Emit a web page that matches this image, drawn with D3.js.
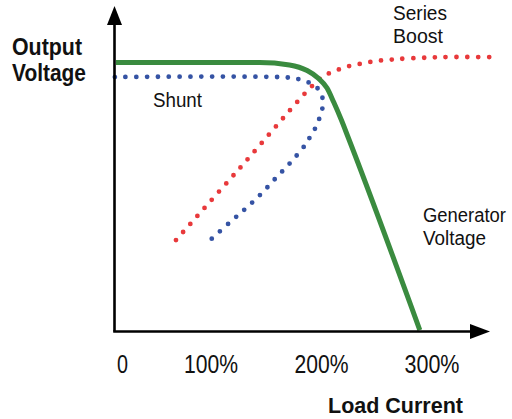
<!DOCTYPE html>
<html><head><meta charset="utf-8">
<script src="https://cdn.jsdelivr.net/npm/d3@7"></script>
<style>body{margin:0;background:#fff}svg{display:block}text{font-family:"Liberation Sans",Arial,sans-serif}</style>
</head><body>
<svg id="c" width="512" height="419"></svg>
<script>
// Data (x = load current %, y = output voltage, relative units)
const generatorVoltage = [[14,100],[144,100],[171,99.1],[187,97],[197,94.2],[205,90.5],[211,85.3],[218,78.6],[224,72.3],[289,0.5]];
const shunt = [[13,94.6],[167,94.5],[177,94],[186.6,92.9],[195,91],[200.2,87.9],[201.1,83.8],[198.6,79.9],[195,76.1],[190.2,72.7],[185.1,69.3],[172.4,63],[158.8,57.1],[145.2,51.1],[130.8,45.5],[116.3,40.3],[98.2,33.6]];
const seriesBoost = [[68.3,34],[126.2,60.8],[190.5,90.9],[195,92.4],[201.4,95],[210.4,96.5],[219.5,98],[229.4,99.1],[239.4,99.8],[249.3,100.6],[259.3,100.9],[269.2,101.3],[289.1,101.7],[309,102],[355.2,102]];
const xTickValues = [0,100,200,300];
const xTickLabels = ["0","100%","200%","300%"];
const xAxisTitle = "Load Current";
const yAxisTitle = ["Output","Voltage"];

const svg = d3.select("#c");
const x = d3.scaleLinear().domain([100,300]).range([211,432]);
const y = d3.scaleLinear().domain([0,100]).range([331.5,62.5]);
const ox = 114.5, oy = 331.5;

const line = d3.line().x(d=>x(d[0])).y(d=>y(d[1]));

// series
svg.append("path").attr("d", line.curve(d3.curveCatmullRom.alpha(0.5))(shunt))
  .attr("fill","none").attr("stroke","#3553a4").attr("stroke-width",4.8)
  .attr("stroke-linecap","round").attr("stroke-dasharray","0 10.8");
svg.append("path").attr("d", line.curve(d3.curveCatmullRom.alpha(0.5))(seriesBoost))
  .attr("fill","none").attr("stroke","#e8393b").attr("stroke-width",4.8)
  .attr("stroke-linecap","round").attr("stroke-dasharray","0 10.8");
svg.append("path").attr("d", line.curve(d3.curveMonotoneX)(generatorVoltage))
  .attr("fill","none").attr("stroke","#3a8b3f").attr("stroke-width",5)
  .attr("stroke-linecap","butt");

// axes
svg.append("line").attr("x1",ox).attr("y1",oy).attr("x2",ox).attr("y2",22).attr("stroke","#000").attr("stroke-width",2.6);
svg.append("line").attr("x1",ox-1.3).attr("y1",oy).attr("x2",474).attr("y2",oy).attr("stroke","#000").attr("stroke-width",2.6);
svg.append("path").attr("d",`M${ox},6L${ox+7.5},25L${ox-7.5},25Z`).attr("fill","#000");
svg.append("path").attr("d",`M490,${oy}L470,${oy-7.5}L470,${oy+7.5}Z`).attr("fill","#000");

// tick labels
const tickW = {"0":11,"100%":54,"200%":54,"300%":55};
svg.selectAll("text.tick").data(xTickValues).join("text").attr("class","tick")
  .attr("x", d => d===0 ? ox+8 : x(d)).attr("y",373)
  .attr("text-anchor","middle").attr("font-size",25).attr("fill","#111")
  .attr("textLength",(d,i)=>tickW[xTickLabels[i]]).attr("lengthAdjust","spacingAndGlyphs")
  .text((d,i)=>xTickLabels[i]);

function label(t,xx,yy,size,w,bold){
  svg.append("text").attr("x",xx).attr("y",yy).attr("font-size",size)
    .attr("font-weight",bold?"bold":"normal").attr("fill","#111")
    .attr("textLength",w).attr("lengthAdjust","spacingAndGlyphs").text(t);
}
label(yAxisTitle[0],12,55,24,70,true);
label(yAxisTitle[1],12,81,24,74,true);
label(xAxisTitle,328,413,22,135,true);
label("Series",393,20,20,54,false);
label("Boost",393,43,20,50,false);
label("Shunt",153,107,20,49,false);
label("Generator",423,222,20,83,false);
label("Voltage",423,245,20,63,false);
</script>
</body></html>
